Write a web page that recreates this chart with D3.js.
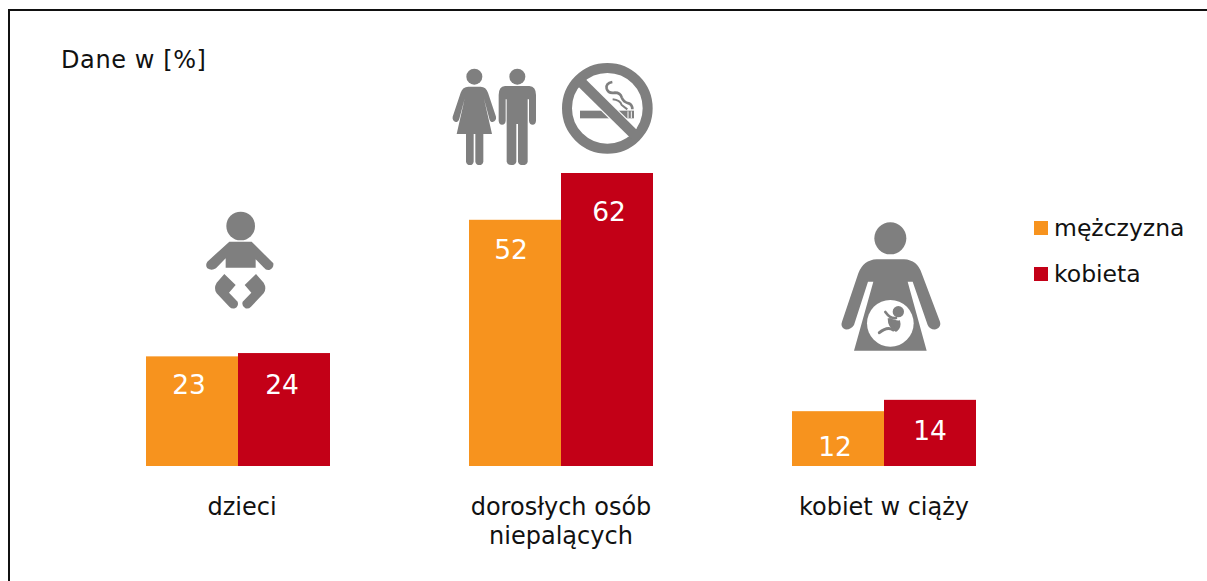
<!DOCTYPE html>
<html><head><meta charset="utf-8">
<script src="https://cdn.jsdelivr.net/npm/d3@7"></script>
<style>html,body{margin:0;padding:0;background:#fff}svg{display:block}text{font-family:"DejaVu Sans",Verdana,sans-serif}</style>
</head><body><svg id="c" width="1207" height="581"></svg>
<script>
const categories = [["dzieci"], ["dorosłych osób", "niepalących"], ["kobiet w ciąży"]];
const seriesNames = ["mężczyzna", "kobieta"];
const menValues = [23.2, 52.1, 11.6];
const womenValues = [23.9, 62, 14];
const seriesColors = ["#f7931e", "#c30017"];
const labelOffsets = [[28, 31], [30, 38], [35, 31]];
const labelShifts = [[-3, -2], [-4, 2], [-3, 0]];
const iconGrey = "#7f7f7f";

const svg = d3.select("#c");
svg.append("path").attr("d", "M1207 10H9V581").attr("fill", "none").attr("stroke", "#111").attr("stroke-width", 2);

const y = d3.scaleLinear().domain([0, 62]).range([466, 173]);
const x = d3.scaleBand().domain(d3.range(categories.length)).range([76.5, 1045.5]);
const inner = d3.scaleBand().domain(seriesNames).range([-92, 92]);
const values = [menValues, womenValues];

seriesNames.forEach((s, si) => {
  const g = svg.append("g");
  g.selectAll("rect").data(values[si]).join("rect")
    .attr("x", (d, i) => x(i) + x.bandwidth() / 2 + inner(s))
    .attr("y", d => y(d))
    .attr("width", inner.bandwidth())
    .attr("height", d => y(0) - y(d))
    .attr("fill", seriesColors[si]);
  g.selectAll("text").data(values[si]).join("text")
    .attr("x", (d, i) => x(i) + x.bandwidth() / 2 + inner(s) + inner.bandwidth() / 2 + labelShifts[i][si])
    .attr("y", (d, i) => y(d) + labelOffsets[i][si])
    .attr("dy", "0.36em")
    .attr("text-anchor", "middle").attr("font-size", 26.5).attr("fill", "#fff")
    .text(d => Math.round(d));
});

svg.append("g").selectAll("text").data(categories).join("text")
  .attr("text-anchor", "middle").attr("font-size", 24).attr("fill", "#111")
  .each(function (lines, i) {
    d3.select(this).selectAll("tspan").data(lines).join("tspan")
      .attr("x", x(i) + x.bandwidth() / 2 + (i === 0 ? 4 : 0))
      .attr("y", (l, k) => 515 + k * 29)
      .text(l => l);
  });

svg.append("text").attr("x", 61).attr("y", 68).attr("font-size", 24).attr("letter-spacing", 0.6).attr("fill", "#111").text("Dane w [%]");

const legend = svg.append("g").selectAll("g").data(seriesNames).join("g")
  .attr("transform", (d, i) => `translate(0,${228 + i * 46})`);
legend.append("rect").attr("x", 1034).attr("y", -7).attr("width", 14).attr("height", 14)
  .attr("fill", (d, i) => seriesColors[i]);
legend.append("text").attr("x", 1054).attr("y", 8).attr("font-size", 23.5).attr("fill", "#111").text(d => d);

// Icons, drawn in a third-scale local space
function icon(tx, ty) {
  return svg.append("g").attr("transform", `translate(${tx},${ty}) scale(${1 / 3})`).attr("fill", iconGrey);
}
const people = icon(440, 50);
people.append("circle").attr("cx", 103).attr("cy", 80).attr("r", 24);
people.append("path").attr("d", "M85 110L122 110Q138 110 144 128L168 200Q170 212 158 216Q150 216 148 206L132 146L156 252L130 252L130 335Q128 345 118 345Q108 345 106 335L106 252L101 252L101 335Q99 345 90 345Q80 345 78 335L78 252L50 252L74 146L58 206Q55 216 47 216Q36 212 38 200L62 128Q68 110 85 110Z");
people.append("circle").attr("cx", 232).attr("cy", 80).attr("r", 24);
people.append("path").attr("d", "M195 108L268 108Q288 110 288 135L288 212Q287 224 278 224Q268 224 267 212L267 148L263 148L263 335Q261 345 248 345Q236 345 234 335L234 222L229 222L229 335Q227 345 214 345Q202 345 200 335L200 148L197 148L197 212Q196 224 186 224Q177 224 176 212L176 135Q176 110 195 108Z");
people.append("rect").attr("x", 420).attr("y", 182).attr("width", 162).attr("height", 23);
people.append("path").attr("d", "M564 184V204M574 184V204").attr("stroke", "#fff").attr("stroke-width", 3);
people.append("path").attr("d", "M517 96Q496 100 500 116Q505 132 525 128Q541 128 545 142Q550 156 566 160Q577 164 577 178").attr("fill", "none").attr("stroke", iconGrey).attr("stroke-width", 8);
people.append("path").attr("d", "M518 148Q540 150 545 165L562 178").attr("fill", "none").attr("stroke", iconGrey).attr("stroke-width", 6);
people.append("circle").attr("cx", 502).attr("cy", 175).attr("r", 121).attr("fill", "none").attr("stroke", iconGrey).attr("stroke-width", 30);
people.append("path").attr("d", "M429 102L577 248").attr("stroke", "#fff").attr("stroke-width", 38);
people.append("path").attr("d", "M420 93L586 257").attr("stroke", iconGrey).attr("stroke-width", 31);

const baby = icon(190, 200);
baby.append("circle").attr("cx", 152).attr("cy", 78).attr("r", 43);
baby.append("path").attr("d", "M118 125L185 125L250 190Q252 205 238 210Q228 212 222 203L197 178L197 203L107 203L107 175L78 205Q65 213 52 205Q45 195 52 185Z");
baby.append("path").attr("d", "M103 222L137 255L117 278L143 305Q147 318 135 325Q125 328 118 320L80 280Q70 265 80 248Z");
baby.append("path").attr("d", "M198 222L164 255L184 278L158 305Q154 318 166 325Q176 328 183 320L221 280Q231 265 221 248Z");

const mother = icon(830, 210);
mother.append("circle").attr("cx", 181).attr("cy", 85).attr("r", 48);
mother.append("path").attr("d", "M140 148L222 148Q262 150 275 190L330 335Q335 350 318 358Q300 360 293 345L248 215L233 215L290 422L72 422L130 215L114 215L72 345Q62 360 45 358Q30 350 36 335L85 190Q100 150 140 148Z");
mother.append("circle").attr("cx", 181).attr("cy", 340).attr("r", 70).attr("fill", "#fff");
mother.append("circle").attr("cx", 205).attr("cy", 305).attr("r", 17);
mother.append("path").attr("d", "M178 325Q178 350 198 360Q210 350 205 332").attr("fill", iconGrey).attr("stroke", iconGrey).attr("stroke-width", 10).attr("stroke-linejoin", "round");
mother.append("path").attr("d", "M190 360Q172 348 148 368").attr("fill", "none").attr("stroke", iconGrey).attr("stroke-width", 9).attr("stroke-linecap", "round");
mother.append("path").attr("d", "M198 324Q182 328 166 306").attr("fill", "none").attr("stroke", iconGrey).attr("stroke-width", 8).attr("stroke-linecap", "round");
</script></body></html>
